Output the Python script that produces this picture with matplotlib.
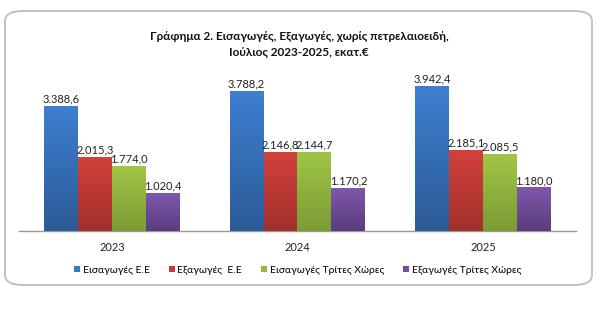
import numpy as np
import matplotlib.pyplot as plt
from matplotlib.patches import FancyBboxPatch
from matplotlib.colors import LinearSegmentedColormap

plt.rcParams['font.family'] = ['Lato', 'Open Sans', 'DejaVu Sans']

years = ['2023', '2024', '2025']
series_names = ['Εισαγωγές Ε.Ε', 'Εξαγωγές  Ε.Ε',
                'Εισαγωγές Τρίτες Χώρες', 'Εξαγωγές Τρίτες Χώρες']
imports_eu = [3388.6, 3788.2, 3942.4]
exports_eu = [2015.3, 2146.8, 2185.1]
imports_third = [1774.0, 2144.7, 2085.5]
exports_third = [1020.4, 1170.2, 1180.0]
series = [imports_eu, exports_eu, imports_third, exports_third]

# (top colour, bottom colour) for each series
shades = [('#3d7fd1', '#2c5b97'),
          ('#d3413b', '#a2302c'),
          ('#a0c646', '#7b9c34'),
          ('#8058ab', '#5a3c7f')]
solid = ['#3a76c4', '#c63c37', '#94b940', '#744f9c']


def greek_num(v):
    return f'{v:,.1f}'.replace(',', 'X').replace('.', ',').replace('X', '.')


fig = plt.figure(figsize=(6.04, 3.28), dpi=100)
fig.patch.set_facecolor('white')

# rounded frame around the chart
frame = FancyBboxPatch((5 / 604, 43 / 328), 587 / 604, 274 / 328,
                       boxstyle='round,pad=0,rounding_size=0.03',
                       transform=fig.transFigure, facecolor='white',
                       edgecolor='#bdbdbd', linewidth=1.3, zorder=-5)
fig.patches.append(frame)

ax = fig.add_axes([19 / 604, 97 / 328, 557 / 604, 166 / 328])
ax.set_facecolor('none')
ax.set_zorder(2)

x = np.arange(len(years))
width = 0.183
offsets = (np.arange(4) - 1.5) * width

for i, vals in enumerate(series):
    cmap = LinearSegmentedColormap.from_list('g', [shades[i][1], shades[i][0]])
    grad = np.linspace(0, 1, 100).reshape(-1, 1)
    bars = ax.bar(x + offsets[i], vals, width, color=solid[i],
                  label=series_names[i], zorder=2)
    for b, v in zip(bars, vals):
        bx, bw = b.get_x(), b.get_width()
        im = ax.imshow(grad, cmap=cmap, origin='lower', aspect='auto',
                       extent=[bx, bx + bw, 0, v], zorder=3)
        im.set_clip_path(b)
        ax.text(bx + bw / 2, v + 40, greek_num(v),
                ha='center', va='bottom', fontsize=8, color='#222222',
                zorder=4)

ax.set_xlim(-0.5, 2.5)
ax.set_ylim(0, 4500)
ax.set_xticks(x)
ax.set_xticklabels(years, fontsize=8, color='#222222')
ax.tick_params(axis='x', length=0, pad=8)
ax.set_yticks([])
for s in ['top', 'right', 'left']:
    ax.spines[s].set_visible(False)
ax.spines['bottom'].set_color('#999999')
ax.spines['bottom'].set_linewidth(1.0)

fig.text(0.495, 0.867, 'Γράφημα 2. Εισαγωγές, Εξαγωγές, χωρίς πετρελαιοειδή,\n'
         'Ιούλιος 2023-2025, εκατ.€', ha='center', va='center',
         fontsize=8.5, fontweight='bold', linespacing=1.45, color='#111111')

ax.legend(loc='center', bbox_to_anchor=(0.5, -0.235), ncol=4, frameon=False,
          fontsize=7.5, handlelength=0.6, handleheight=0.6,
          handletextpad=0.25, columnspacing=1.8)

fig.savefig('out.png', dpi=100)
